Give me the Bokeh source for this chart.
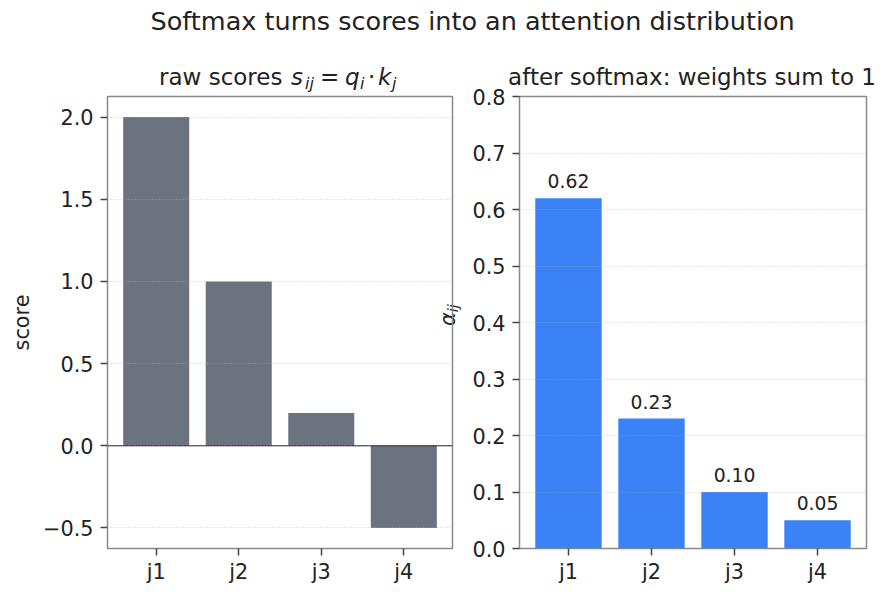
from bokeh.plotting import figure
from bokeh.models import (Range1d, FactorRange, FixedTicker, CustomJSTickFormatter,
                          Span, Div)
from bokeh.layouts import column, row
from bokeh.embed import file_html
from bokeh.resources import INLINE
from bokeh.core.properties import value

# --- data -------------------------------------------------------------
keys = ["j1", "j2", "j3", "j4"]
scores = [2.0, 1.0, 0.2, -0.5]          # raw dot-product scores
weights = [0.62, 0.23, 0.10, 0.05]      # softmax of the scores
score_ticks = [-0.5, 0.0, 0.5, 1.0, 1.5, 2.0]
weight_ticks = [0.0, 0.1, 0.2, 0.3, 0.4, 0.5, 0.6, 0.7, 0.8]

suptitle = "Softmax turns scores into an attention distribution"
right_title = "after softmax: weights sum to 1"

FONT = "DejaVu Sans"
INK = "#222222"
GRAY_BAR = "#6b7280"
BLUE_BAR = "#3b82f6"
TICK_PX = "20.8px"


def style(p, ticks):
    p.border_fill_color = None
    p.background_fill_color = None
    p.outline_line_color = "#8a8a8a"
    p.outline_line_width = 1.5
    p.xgrid.visible = False
    p.ygrid.ticker = FixedTicker(ticks=ticks)
    p.ygrid.grid_line_color = "#b0b0b0"
    p.ygrid.grid_line_alpha = 0.6
    p.ygrid.grid_line_dash = "1 2"
    p.ygrid.grid_line_width = 1
    p.ygrid.level = "overlay"
    p.yaxis.ticker = FixedTicker(ticks=ticks)
    p.yaxis.formatter = CustomJSTickFormatter(
        code="return tick.toFixed(1).replace('-', '\\u2212')")
    for ax in (p.xaxis[0], p.yaxis[0]):
        ax.axis_line_color = None
        ax.major_tick_line_color = "#444444"
        ax.major_tick_line_width = 1.5
        ax.major_tick_out = 7
        ax.major_tick_in = 0
        ax.minor_tick_line_color = None
        ax.major_label_text_font = FONT
        ax.major_label_text_font_size = TICK_PX
        ax.major_label_text_color = INK
        ax.major_label_standoff = 7
        ax.axis_label_text_font = FONT
        ax.axis_label_text_font_size = TICK_PX
        ax.axis_label_text_color = INK
    p.xaxis.major_label_standoff = 4


def key_range():
    return FactorRange(*keys, range_padding=0.09, range_padding_units="absolute")


# --- left panel: raw scores --------------------------------------------
p1 = figure(width=460, height=546, output_backend="svg", toolbar_location=None,
            title=None, x_range=key_range(), y_range=Range1d(-0.625, 2.125),
            min_border_left=107, min_border_right=8,
            min_border_top=46, min_border_bottom=48)
p1.vbar(x=keys, top=scores, width=0.8, fill_color=GRAY_BAR, line_color=None)
p1.add_layout(Span(location=0, dimension="width", line_color="#111111",
                   line_width=1))
style(p1, score_ticks)
p1.yaxis.axis_label = "score"
p1.yaxis.axis_label_text_font_style = "normal"
p1.yaxis.axis_label_standoff = 6

# --- right panel: softmax weights --------------------------------------
p2 = figure(width=434, height=546, output_backend="svg", toolbar_location=None,
            title=None, x_range=key_range(), y_range=Range1d(0.0, 0.8),
            min_border_left=59, min_border_right=28,
            min_border_top=46, min_border_bottom=48)
p2.vbar(x=keys, top=weights, width=0.8, fill_color=BLUE_BAR, line_color=None)
p2.text(x=keys, y=weights, text=[f"{w:.2f}" for w in weights],
        text_align="center", text_baseline="alphabetic", y_offset=-17,
        text_font=value(FONT), text_font_size=value("18.75px"),
        text_color=INK)
style(p2, weight_ticks)

# --- titles and the alpha_ij label, set as HTML text over the canvases ---
def piece(text, left, top, size, italic=False):
    style_ = "font-style:italic;" if italic else ""
    return (f'<span style="position:absolute;left:{left}px;top:{top}px;'
            f'font-size:{size}px;{style_}">{text}</span>')


main, sub = 23, 16
parts = [
    piece(suptitle, 150.5, 9.4, 25.5),
    # raw scores s_ij = q_i . k_j
    piece("raw scores", 159, 65.5, main),
    piece("s", 291, 65.5, main, True),
    piece("ij", 305, 75.5, sub, True),
    piece("=", 320, 65.5, main),
    piece("q", 345, 65.5, main, True),
    piece("i", 360, 75.5, sub, True),
    piece("\u00b7", 368, 65.5, main),
    piece("k", 378, 65.5, main, True),
    piece("j", 392, 75.5, sub, True),
    # right panel title, centred over its frame
    f'<div style="position:absolute;left:492px;top:65.5px;width:400px;'
    f'text-align:center;font-size:{main}px;">{right_title}</div>',
    # y label of the right panel
    '<div style="position:absolute;left:448px;top:315px;font-size:20.8px;'
    'transform:translate(-50%,-50%) rotate(-90deg);">'
    '<i>\u03b1</i><span style="font-size:14.6px;position:relative;top:3px;">'
    '<i>ij</i></span></div>',
]
html = ('<div style="position:relative;width:894px;height:596px;'
        f'font-family:\'{FONT}\';color:{INK};line-height:1;white-space:nowrap;">'
        + "".join(parts) + "</div>")
texts = Div(text=html, width=894, height=596, margin=0)

panels = row(p1, p2, spacing=0, margin=(-546, 0, 0, 0))
layout = column(texts, panels, spacing=0)

with open("out.html", "w") as f:
    f.write(file_html(layout, INLINE))
